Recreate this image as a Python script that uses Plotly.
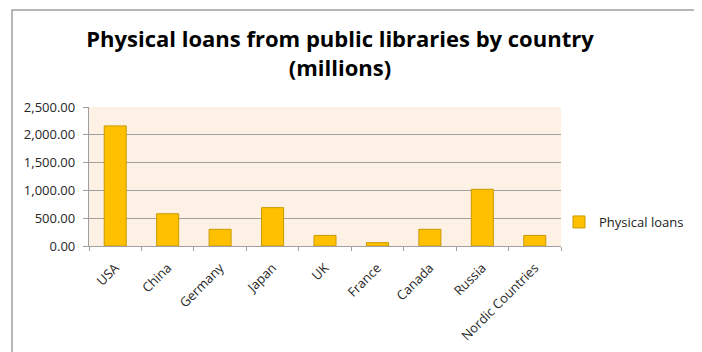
import plotly.graph_objects as go

countries = ["USA", "China", "Germany", "Japan", "UK", "France", "Canada", "Russia", "Nordic Countries"]
loans = [2160, 580, 300, 690, 190, 60, 300, 1020, 190]
series_name = "Physical loans"
y_ticks = [0, 500, 1000, 1500, 2000, 2500]

# page offset (browser body margin)
OFF = 8
W, H = 702 - OFF, 352 - OFF
L, R, T, B = 89 - OFF, 561 - OFF, 107 - OFF, 246 - OFF
pw, ph = R - L, B - T

def px_x(x):
    return (x - OFF - L) / pw

def px_y(y):
    return (B - (y - OFF)) / ph

fig = go.Figure()
fig.add_trace(go.Bar(
    x=countries, y=loans, name=series_name,
    marker=dict(color="#FFC000", line=dict(color="#C99A00", width=1)),
    width=0.42, showlegend=True,
))

font_fam = "Open Sans, Arial, sans-serif"
fig.update_layout(
    template="none",
    width=W, height=H,
    margin=dict(l=L, r=W - R, t=T, b=H - B, pad=0, autoexpand=False),
    paper_bgcolor="white",
    plot_bgcolor="#FDF1E6",
    title=dict(
        text="Physical loans from public libraries by country<br>(millions)",
        font=dict(family=font_fam, size=22, color="#000000", weight="bold"),
        x=(340 - OFF) / W, xanchor="center",
        y=1 - (47 - OFF) / H, yanchor="middle", yref="container",
    ),
    showlegend=True,
    legend=dict(
        x=px_x(559), xanchor="left", y=px_y(222), yanchor="middle",
        font=dict(family=font_fam, size=13, color="#222222"),
        bgcolor="rgba(0,0,0,0)",
    ),
)
fig.update_yaxes(
    range=[0, 2500], tickvals=y_ticks, tickformat=",.2f",
    showgrid=True, gridcolor="#A0A0A0", gridwidth=1.3,
    showline=True, linecolor="#A0A0A0", linewidth=1.3,
    ticks="outside", ticklen=5, tickcolor="#A0A0A0", tickwidth=1.3,
    ticklabelstandoff=5,
    tickfont=dict(family=font_fam, size=13, color="#262626"),
    zeroline=False, fixedrange=True, automargin=False,
)
fig.update_xaxes(
    showline=True, linecolor="#A0A0A0", linewidth=1.3,
    ticks="outside", ticklen=4, tickcolor="#A0A0A0", tickwidth=1.3,
    tickson="boundaries", tickangle=-45, ticklabelstandoff=8,
    tickfont=dict(family=font_fam, size=13, color="#262626"),
    showgrid=False, automargin=False, zeroline=False,
)
fig.add_shape(
    type="rect", xref="paper", yref="paper",
    x0=px_x(12), x1=px_x(698), y0=px_y(370), y1=px_y(10),
    line=dict(color="#A0A0A0", width=1.5), fillcolor="rgba(0,0,0,0)",
    layer="below",
)
fig.write_html("out.html")
